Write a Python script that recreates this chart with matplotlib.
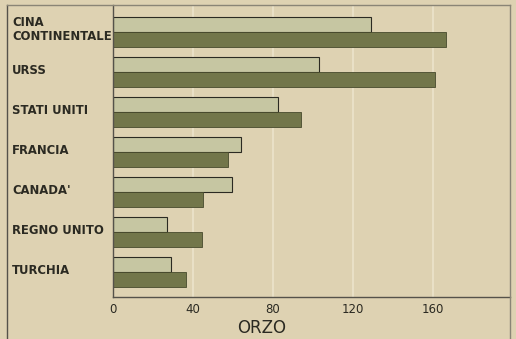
import numpy as np
import matplotlib.pyplot as plt
from matplotlib.lines import Line2D
from matplotlib.transforms import blended_transform_factory

# data
paesi = ['CINA\nCONTINENTALE', 'URSS', 'STATI UNITI', 'FRANCIA',
         "CANADA'", 'REGNO UNITO', 'TURCHIA']
serie_chiara = [129, 103, 82.5, 64, 59.5, 27, 29]
serie_scura = [166.5, 161, 94, 57.5, 45, 44.5, 36.5]
tick_vals = [0, 40, 80, 120, 160]

BG = '#ded2b2'
LIGHT = '#c6c6a2'
DARK = '#72764a'
INK = '#2b2a22'

W, H = 516, 339
fig = plt.figure(figsize=(W / 100, H / 100), dpi=100)
fig.patch.set_facecolor(BG)

# plot area: x 113..510 px, y 5..297 px
ax = fig.add_axes([113 / W, (H - 297) / H, (510 - 113) / W, (297 - 5) / H])
ax.set_facecolor(BG)
ax.set_xlim(0, (510 - 113) / 2)
ax.set_ylim(6.625, -0.675)

y = np.arange(len(paesi))
h = 0.37
for v in tick_vals[1:]:
    ax.axvline(v, color='#e9e0c6', lw=1.5, zorder=0)
ax.barh(y - 0.19, serie_chiara, height=h, color=LIGHT, edgecolor=INK, lw=0.8, zorder=2)
ax.barh(y + 0.18, serie_scura, height=h, color=DARK, edgecolor='#474a2c', lw=0.6, zorder=2)

for s in ['top', 'right']:
    ax.spines[s].set_visible(False)
ax.spines['left'].set_color('#55524a')
ax.spines['bottom'].set_color('#55524a')
ax.spines['left'].set_linewidth(1.0)
ax.spines['bottom'].set_linewidth(1.0)

ax.set_yticks([])
ax.set_xticks(tick_vals)
ax.set_xticklabels([str(t) for t in tick_vals], fontsize=8.5, color=INK,
                   family='DejaVu Sans')
ax.tick_params(axis='x', length=0, pad=4)

tr = blended_transform_factory(fig.transFigure, ax.transData)
for i, nome in enumerate(paesi):
    ax.text(12 / W, i - 0.05, nome, transform=tr, ha='left', va='center',
            fontsize=8.4, color=INK, family=['Liberation Sans Narrow', 'DejaVu Sans'],
            fontweight='bold', linespacing=1.1)

fig.text(262 / W, (H - 328) / H, 'ORZO', ha='center', va='center',
         fontsize=12, color=INK, family='DejaVu Sans')

# outer frame of the plate
fig.add_artist(Line2D([7 / W, 7 / W], [0, (H - 5) / H], color='#55524a', lw=1.0))
fig.add_artist(Line2D([7 / W, 510 / W], [(H - 5) / H, (H - 5) / H], color='#8a8576', lw=1.0))
fig.add_artist(Line2D([510 / W, 510 / W], [0, (H - 5) / H], color='#8a8576', lw=1.0))

fig.savefig('out.png', dpi=100, facecolor=BG)
